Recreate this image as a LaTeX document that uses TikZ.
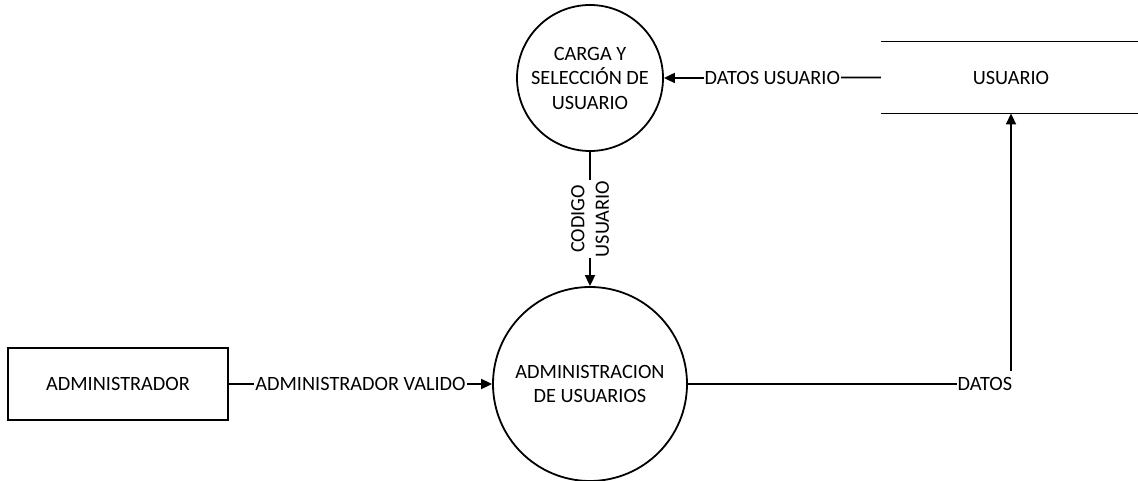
\documentclass[tikz,border=0pt]{standalone}
\usepackage{fontspec}
\setmainfont{Carlito}
\usetikzlibrary{arrows.meta}
\tikzset{
  every node/.style={font=\fontsize{20.3}{24.5}\selectfont},
  proc/.style={draw, circle, line width=1.8pt, inner sep=0pt, align=center},
  entity/.style={draw, rectangle, line width=1.8pt, inner sep=0pt},
  flow/.style={line width=1.8pt, -{Triangle[length=11pt,width=10pt]}},
  lbl/.style={fill=white, inner sep=1pt, text height=13pt, text depth=0pt}
}
\begin{document}
\begin{tikzpicture}[x=1pt,y=-1pt]
\useasboundingbox (0,0) rectangle (1138,481);
\node[proc, minimum size=146pt] (carga) at (590,78) {CARGA Y\\SELECCIÓN DE\\USUARIO};
\node[proc, minimum size=194pt] (admin) at (590,384) {ADMINISTRACION\\DE USUARIOS};
\node[entity, minimum width=220pt, minimum height=72pt] (adm) at (118,384) {ADMINISTRADOR};
\node[inner sep=0pt, minimum width=260pt, minimum height=71.5pt] (usuario) at (1011,77.5) {USUARIO};
\draw[line width=1.8pt] (usuario.north west) -- (usuario.north east);
\draw[line width=1.8pt] (usuario.south west) -- (usuario.south east);
\draw[flow] (usuario.west) -- node[lbl]{DATOS USUARIO} (carga.east);
\draw[flow] (carga.south) -- node[lbl, rotate=90, align=center, text height=]{CODIGO\\USUARIO} (admin.north);
\draw[flow] (adm.east) -- node[lbl]{ADMINISTRADOR VALIDO} (admin.west);
\draw[flow] (admin.east) -| node[lbl, pos=0.5, anchor=east, xshift=3pt, minimum height=26pt]{DATOS} (usuario.south);
\end{tikzpicture}
\end{document}
